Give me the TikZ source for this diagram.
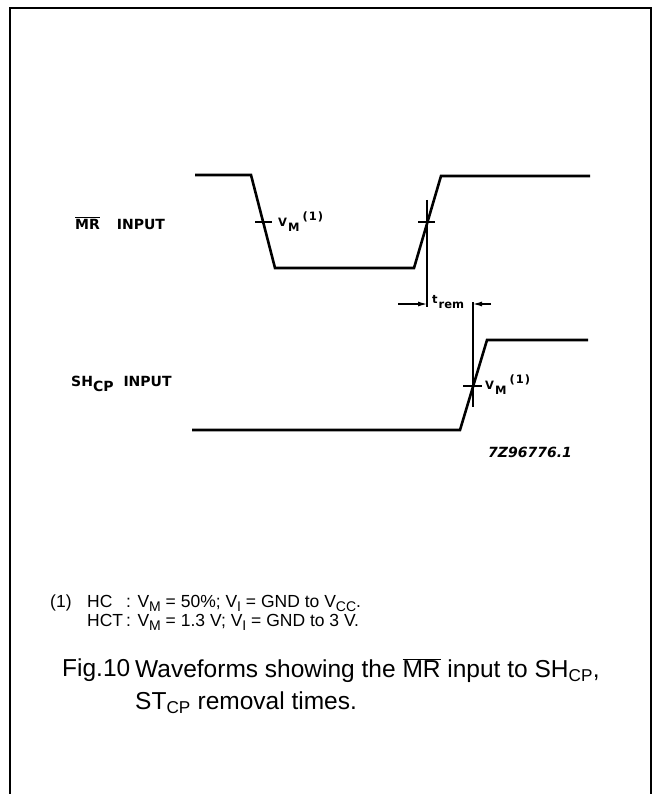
\documentclass[tikz,border=0pt]{standalone}
\usepackage{fontspec}
\setmainfont{Liberation Sans}
\newfontfamily\scopefont{DejaVu Sans}
\usetikzlibrary{arrows.meta}

\newcommand{\vmone}{V\kern1pt\raisebox{-5pt}{M}\kern3pt\raisebox{6pt}{(\kern1pt1\kern1pt)}}
\newcommand{\sub}[1]{\raisebox{-3.5pt}{\fontsize{14}{14}\selectfont#1}}
\newcommand{\lsub}[1]{\raisebox{-5pt}{#1}}

\begin{document}
\begin{tikzpicture}[x=1pt,y=-1pt,anchor=west,
    wave/.style={line width=2.6pt,line join=miter},
    tick/.style={line width=1.6pt},
    dim/.style={line width=1.1pt},
    sig/.style={inner sep=0pt,font=\scopefont\bfseries\fontsize{14}{16}\selectfont},
    vlab/.style={inner sep=0pt,font=\scopefont\bfseries\fontsize{11.5}{13}\selectfont},
    note/.style={inner sep=0pt,font=\fontsize{17.5}{19}\selectfont},
    capt/.style={inner sep=0pt,font=\fontsize{24.5}{32}\selectfont,align=left}]
    \useasboundingbox (0,0) rectangle (660,794);
    \draw[line width=1.4pt] (10,794) -- (10,8) -- (651,8) -- (651,794);
    %% MR waveform
    \node[sig] (mr) at (75,223) {$\overline{\mbox{MR}}$\hspace{17pt}INPUT};
    \draw[wave] (195,175) -- (251,175) -- (275,268) -- (414,268)
      -- (441,176) -- (590,176);
    \draw[tick] (255,222) -- (272,222);
    \node[vlab] (vm1) at (278,222) {\vmone};
    \draw[tick] (418,222) -- (435,222);
    \coordinate (edge1) at (427,200);
    \coordinate (rem1) at (427,307);
    \draw[dim] (edge1) -- (rem1);
    %% SHCP waveform
    \node[sig] (sh) at (71,384) {SH\lsub{CP}\hspace{10pt}INPUT};
    \draw[wave] (192,430) -- (460,430) -- (487,340) -- (588,340);
    \draw[tick] (463,386) -- (482,386);
    \node[vlab] (vm2) at (485,385) {\vmone};
    \coordinate (edge2) at (473,302);
    \coordinate (rem2) at (473,407);
    \draw[dim] (edge2) -- (rem2);
    %% removal time
    \coordinate (a1) at (398,304);
    \coordinate (a2) at (427,304);
    \coordinate (b1) at (491,304);
    \coordinate (b2) at (473,304);
    \draw[dim,-{Latex[length=9pt,width=5pt]}] (a1) -- (a2);
    \draw[dim,-{Latex[length=9pt,width=5pt]}] (b1) -- (b2);
    \node[vlab] (trem) at (432,302) {t\kern1pt\lsub{rem}};
    \node[inner sep=0pt,font=\scopefont\fontsize{14}{16}\bfseries\itshape] (code) at (488,452) {7Z96776.1};
    %% notes
    \node[note] (n1) at (50,603) {(1)};
    \node[note,align=left] (n2) at (87,613)
      {\makebox[39pt][l]{HC}: V\sub{M} = 50\%; V\sub{I} = GND to V\sub{CC}.\\
       \makebox[39pt][l]{HCT}: V\sub{M} = 1.3 V; V\sub{I} = GND to 3 V.};
    %% caption
    \node[capt] (fig) at (62,670) {Fig.10};
    \node[capt] (cap) at (135,686)
      {Waveforms showing the $\overline{\mbox{MR}}$ input to SH\textsubscript{CP},\\
       ST\textsubscript{CP} removal times.};
\end{tikzpicture}
\end{document}
